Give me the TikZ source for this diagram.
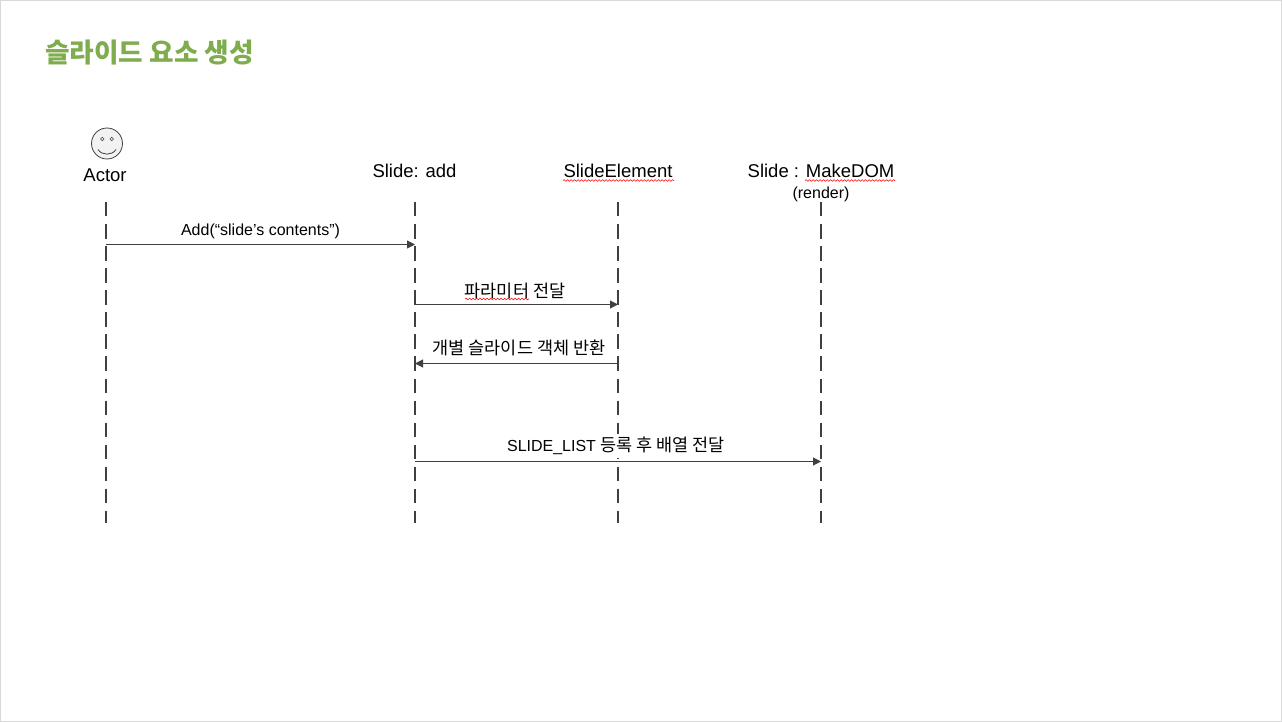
\documentclass[tikz,border=0pt]{standalone}
\usepackage{fontspec}
\setmainfont{Liberation Sans}
\newfontfamily\krfont{Noto Sans CJK KR}
\newcommand{\krbig}{\fontsize{17.5}{19}\selectfont\krfont}
\usetikzlibrary{arrows.meta,decorations.pathmorphing}
\definecolor{titlegreen}{RGB}{127,172,77}
\definecolor{linegray}{RGB}{64,64,64}
\definecolor{framegray}{RGB}{217,217,217}
\tikzset{
  lifeline/.style={linegray,line width=2pt,dash pattern=on 14.5pt off 7.57pt},
  msg/.style={linegray,line width=1pt,-{Triangle[length=8pt,width=8pt]}},
  head/.style={inner sep=0pt,font=\fontsize{18.5}{20}\selectfont},
  msgtext/.style={inner sep=0pt,font=\fontsize{16}{18}\selectfont},
  eye/.style={circle,draw=linegray,line width=0.6pt,minimum size=3.5pt,inner sep=0pt},
  spell/.style={red,line width=0.6pt,decorate,decoration={snake,amplitude=0.8pt,segment length=3.5pt}},
}
\begin{document}
\begin{tikzpicture}[x=1pt,y=-1pt]
        \useasboundingbox (0,0) rectangle (1282,722);
        \node [draw=framegray,line width=1pt,minimum width=1281pt,minimum height=721pt,inner sep=0pt] (frame) at (641,361) {};
        \node [inner sep=0pt,text=titlegreen,font=\fontsize{26.7}{28}\bfseries\krfont] (title) at (149.5,52.5) {슬라이드 요소 생성};
        % actor
        \node [circle,draw=linegray,fill=black!5,line width=0.8pt,minimum size=31pt,inner sep=0pt] (face) at (107,143.5) {};
        \node [eye] (eyel) at (102.3,139) {};
        \node [eye] (eyer) at (111.7,139) {};
        \coordinate (smilel) at (98,149.5);
        \coordinate (smiler) at (116,149.5);
        \draw [linegray,line width=0.8pt] (smilel) .. controls (102,155.7) and (112,155.7) .. (smiler);
        \node [head] (actor) at (105,175.5) {Actor};
        \node [head] (add) at (414.5,171) {Slide: add};
        \node [head] (element) at (618,171) {SlideElement};
        \node [head] (dom) at (821,171) {Slide : MakeDOM};
        \node [inner sep=0pt,font=\fontsize{16}{18}\selectfont] (render) at (821,194) {(render)};
        % lifelines
        \coordinate (a0) at (106,202);
        \coordinate (a1) at (106,523);
        \coordinate (b0) at (415,202);
        \coordinate (b1) at (415,523);
        \coordinate (c0) at (618,202);
        \coordinate (c1) at (618,523);
        \coordinate (d0) at (821,202);
        \coordinate (d1) at (821,523);
        \draw [lifeline] (a0)--(a1);
        \draw [lifeline] (b0)--(b1);
        \draw [lifeline] (c0)--(c1);
        \draw [lifeline] (d0)--(d1);
        % messages
        \coordinate (m1s) at (106,244.5);
        \coordinate (m1e) at (415,244.5);
        \coordinate (m2s) at (415,304.5);
        \coordinate (m2e) at (618,304.5);
        \coordinate (m3s) at (618,363.5);
        \coordinate (m3e) at (415,363.5);
        \coordinate (m4s) at (415,461.5);
        \coordinate (m4e) at (821,461.5);
        \node [msgtext] (t1) at (260.5,231) {Add(“slide’s contents”)};
        \node [msgtext,font=\krbig] (t2) at (515,291) {파라미터 전달};
        \node [msgtext,font=\krbig] (t3) at (519,348) {개별 슬라이드 객체 반환};
        \node [msgtext,fill=white,inner ysep=3pt] (t4) at (616,446) {SLIDE\_LIST {\krbig 등록 후 배열 전달}};
        \draw [msg] (m1s)--(m1e);
        \draw [msg] (m2s)--(m2e);
        \draw [msg] (m3s)--(m3e);
        \draw [msg] (m4s)--(m4e);
        % spelling marks
        \coordinate (s1a) at (563,180.5);
        \coordinate (s1b) at (674,180.5);
        \coordinate (s2a) at (805,180.5);
        \coordinate (s2b) at (895,180.5);
        \coordinate (s3a) at (465,299);
        \coordinate (s3b) at (529,299);
        \draw [spell] (s1a)--(s1b);
        \draw [spell] (s2a)--(s2b);
        \draw [spell] (s3a)--(s3b);
      \end{tikzpicture}
\end{document}
